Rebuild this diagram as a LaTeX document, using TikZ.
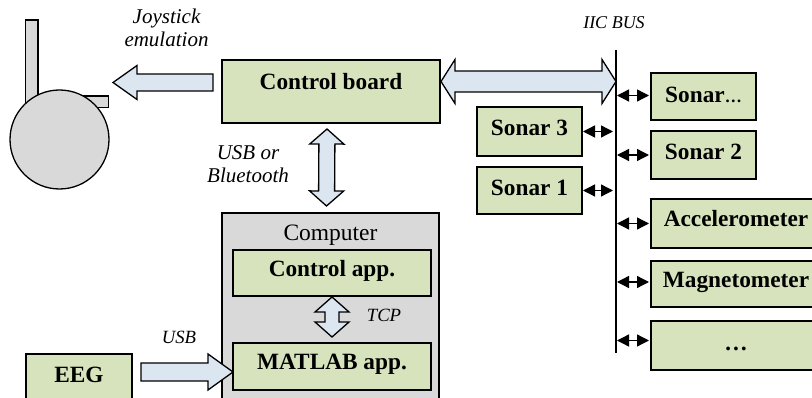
\documentclass[tikz,border=0pt]{standalone}
\usepackage{fontspec}
\setmainfont{Liberation Serif}
\usetikzlibrary{positioning,calc,arrows.meta}
\definecolor{boxgreen}{HTML}{D7E3BC}
\definecolor{arrowblue}{HTML}{DCE6F1}
\definecolor{chairgrey}{HTML}{D9D9D9}
\tikzset{%
  greenbox/.style n args = {3}{draw, fill=boxgreen, inner sep=0pt, outer sep=0pt,
    font=\fontsize{23.3}{26}\selectfont\bfseries, minimum width=#1pt,
    text height=#2pt, text depth=#3pt}, % baseline set by height and depth
  chair/.style    = {draw, fill=chairgrey, inner sep=0pt, outer sep=0pt},
  note/.style     = {font=\fontsize{21}{23.5}\selectfont\itshape, align=center, inner sep=0pt},
  smallnote/.style = {font=\fontsize{18.7}{21}\selectfont\itshape, inner sep=0pt},
  fatone/.style n args = {3}{draw, fill=arrowblue, to path={
    let \p1=(\tikztostart), \p2=(\tikztotarget), \n1={atan2(\y2-\y1,\x2-\x1)},
    \p3=(\n1:#3), \p4=(\n1+90:#1), \p5=(\n1+90:#2) in
    ($(\p1)+(\p4)$) -- ($(\p2)-(\p3)+(\p4)$) -- ($(\p2)-(\p3)+(\p5)$) -- (\p2)
    -- ($(\p2)-(\p3)-(\p5)$) -- ($(\p2)-(\p3)-(\p4)$) -- ($(\p1)-(\p4)$) -- cycle}},
  fattwo/.style n args = {3}{draw, fill=arrowblue, to path={
    let \p1=(\tikztostart), \p2=(\tikztotarget), \n1={atan2(\y2-\y1,\x2-\x1)},
    \p3=(\n1:#3), \p4=(\n1+90:#1), \p5=(\n1+90:#2) in
    (\p1) -- ($(\p1)+(\p3)+(\p5)$) -- ($(\p1)+(\p3)+(\p4)$) -- ($(\p2)-(\p3)+(\p4)$)
    -- ($(\p2)-(\p3)+(\p5)$) -- (\p2) -- ($(\p2)-(\p3)-(\p5)$) -- ($(\p2)-(\p3)-(\p4)$)
    -- ($(\p1)+(\p3)-(\p4)$) -- ($(\p1)+(\p3)-(\p5)$) -- cycle}}
}

\begin{document}
\begin{tikzpicture}[x=1pt, y=-1pt, line width=1.3pt, >={Triangle[length=12pt,width=12pt]}]

  \useasboundingbox (0,0) rectangle (812,398);
  \clip (0,0) rectangle (812,398);

  % wheelchair
  \draw node at (25.5,20) [chair, anchor=north west, minimum width=12.5pt, minimum height=85pt] (chairback) {};
  \draw node at (50,96) [chair, anchor=north west, minimum width=58.5pt, minimum height=11.5pt] (chairfoot) {};
  \draw node at (59.5,139.5) [chair, circle, minimum size=99pt] (chairwheel) {};
  \coordinate (chairtip) at (113,82.5);

  % board and computer
  \draw node at (222,60) [greenbox={218}{30}{33}, anchor=north west] (board) {Control board};
  \draw node at (222,213) [chair, anchor=north west, minimum width=217pt,
    font=\fontsize{23.5}{26}\selectfont, text height=28pt, text depth=172pt] (computer) {Computer};
  \draw node at (233,250) [greenbox={198}{27}{19}, anchor=north west] (ctrlapp) {Control app.};
  \draw node at (233,343) [greenbox={198}{27}{20}, anchor=north west] (matlab) {MATLAB app.};
  \draw node at (26,354) [greenbox={106}{28}{28}, anchor=north west] (eeg) {EEG};

  % left column of sonars
  \draw node at (477,107) [greenbox={105}{29}{20}, anchor=north west] (sonarc) {Sonar 3};
  \draw node [greenbox={105}{29}{18}, below=11pt of sonarc] (sonara) {Sonar 1};

  % right column of sensors
  \draw node at (651,73) [greenbox={105}{30}{17}, anchor=north west] (sonarx) {Sonar{\fontsize{17}{20}\selectfont…}};
  \draw node [greenbox={105}{29}{19}, below=11pt of sonarx] (sonarb) {Sonar 2};
  \draw node at (651,199) [greenbox={170}{28}{21}, anchor=north west] (accel) {Accelerometer};
  \draw node [greenbox={170}{27}{19}, below=13pt of accel] (magnet) {Magnetometer};
  \draw node [greenbox={170}{30}{19}, below=14pt of magnet] (more) {…};

  % bus
  \coordinate (bustop) at (616,50);
  \coordinate (busend) at (616,353);
  \draw (bustop) -- (busend);
  \draw node at (614,29) [smallnote, anchor=base, font=\fontsize{18}{20}\selectfont\itshape] (buslabel) {IIC BUS};

  % block arrows
  \draw[fatone={8.5pt}{17pt}{24pt}] ([shift={(-9pt,9pt)}]board.west) to (chairtip);
  \draw[fattwo={10.5pt}{22pt}{14pt}] ([shift={(1pt,10pt)}]board.east) to ([yshift=10pt]board.east -| bustop);
  \draw[fattwo={8pt}{17pt}{15pt}] ([shift={(-4pt,-6pt)}]board.south) to ([shift={(-4pt,7pt)}]computer.north);
  \draw[fattwo={7pt}{17pt}{15pt}] ([yshift=-1pt]ctrlapp.south) to ([yshift=6pt]matlab.north);
  \draw[fatone={9pt}{18pt}{25pt}] ([shift={(9pt,10pt)}]eeg.east) to ([yshift=10pt]eeg.east -| matlab.west);

  % bus arrows
  \draw[<->] ([shift={(1pt,1pt)}]sonarx.west -| bustop) -- ([shift={(-2pt,1pt)}]sonarx.west);
  \draw[<->] ([shift={(1pt,0pt)}]sonarb.west -| bustop) -- ([xshift=-2pt]sonarb.west);
  \draw[<->] ([xshift=-3pt]sonarc.east -| bustop) -- ([xshift=1pt]sonarc.east);
  \draw[<->] ([xshift=-3pt]sonara.east -| bustop) -- ([xshift=1pt]sonara.east);
  \draw[<->] ([xshift=1pt]accel.west -| bustop) -- ([xshift=-2pt]accel.west);
  \draw[<->] ([shift={(1pt,2pt)}]magnet.west -| bustop) -- ([shift={(-2pt,2pt)}]magnet.west);
  \draw[<->] ([shift={(1pt,5pt)}]more.west -| bustop) -- ([shift={(-2pt,5pt)}]more.west);

  % labels
  \draw node at (166.5,47) [note, anchor=base] (joylabel) {Joystick\\emulation};
  \draw node at (248,183) [note, anchor=base] (usbbtlabel) {USB or\\Bluetooth};
  \draw node at (384,322) [smallnote, anchor=base] (tcplabel) {TCP};
  \draw node at (179,344) [smallnote, anchor=base] (usblabel) {USB};

\end{tikzpicture}
\end{document}
